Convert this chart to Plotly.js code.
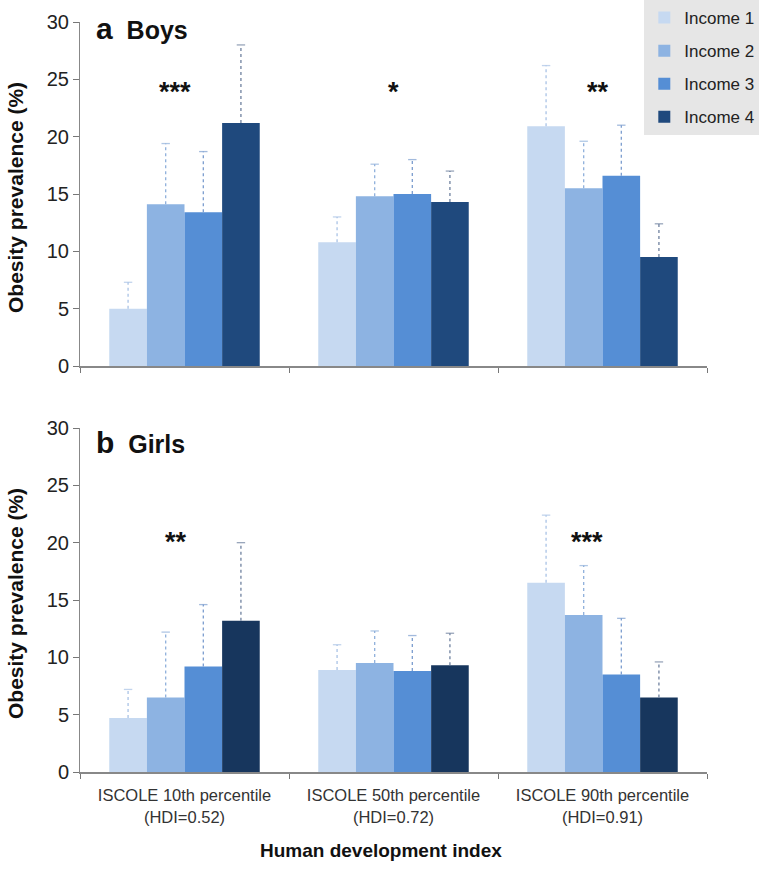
<!DOCTYPE html>
<html>
<head>
<meta charset="utf-8">
<script src="https://cdn.plot.ly/plotly-3.0.1.min.js"></script>
<style>html,body{margin:0;padding:0;background:#fff;}#chart{width:760px;height:869px;}</style>
</head>
<body>
<div id="chart"></div>
<script>
// ---- data ----
const categories = ["ISCOLE 10th percentile<br>(HDI=0.52)", "ISCOLE 50th percentile<br>(HDI=0.72)", "ISCOLE 90th percentile<br>(HDI=0.91)"];
const seriesNames = ["Income 1", "Income 2", "Income 3", "Income 4"];

const boysIncome1 = [5.0, 10.8, 20.9];
const boysIncome2 = [14.1, 14.8, 15.5];
const boysIncome3 = [13.4, 15.0, 16.6];
const boysIncome4 = [21.2, 14.3, 9.5];
const boysUpper1 = [7.3, 13.0, 26.2];
const boysUpper2 = [19.4, 17.6, 19.6];
const boysUpper3 = [18.7, 18.0, 21.0];
const boysUpper4 = [28.0, 17.0, 12.4];

const girlsIncome1 = [4.7, 8.9, 16.5];
const girlsIncome2 = [6.5, 9.5, 13.7];
const girlsIncome3 = [9.2, 8.8, 8.5];
const girlsIncome4 = [13.2, 9.3, 6.5];
const girlsUpper1 = [7.2, 11.1, 22.4];
const girlsUpper2 = [12.2, 12.3, 18.0];
const girlsUpper3 = [14.6, 11.9, 13.4];
const girlsUpper4 = [20.0, 12.1, 9.6];

const boysStars = ["***", "*", "**"];
const girlsStars = ["**", "", "***"];
const boysStarY = 23.9;
const girlsStarY = 20.1;

// ---- styles ----
const boysStarShift = [-10, 0, -5];
const girlsStarShift = [-9, 0, -16];
const barColors = ["#c6d9f1", "#8db3e2", "#558ed5", "#1f497d"];
const girlsColors = ["#c6d9f1", "#8db3e2", "#558ed5", "#17365d"];
const errColors = ["#a9c3e6", "#8fb0db", "#7b9dcf", "#6f819f"];
const FONT = "Liberation Sans, Arial, sans-serif";
const GAP = 0.28;

const boysVals = [boysIncome1, boysIncome2, boysIncome3, boysIncome4];
const boysUp = [boysUpper1, boysUpper2, boysUpper3, boysUpper4];
const girlsVals = [girlsIncome1, girlsIncome2, girlsIncome3, girlsIncome4];
const girlsUp = [girlsUpper1, girlsUpper2, girlsUpper3, girlsUpper4];

const traces = [];
function addPanel(vals, ups, cols, xa, ya, show) {
  vals.forEach((v, i) => {
    // dotted error whisker from bar top to upper value
    const ex = [], ey = [], ms = [];
    categories.forEach((c, k) => { ex.push(c, c, null); ey.push(v[k], ups[i][k], null); ms.push(0, 6, 0); });
    traces.push({
      type: "scatter", mode: "lines+markers", x: ex, y: ey, xaxis: xa, yaxis: ya,
      showlegend: false, hoverinfo: "skip", cliponaxis: false, connectgaps: false,
      line: {color: errColors[i], width: 1.3, dash: "dot"},
      marker: {symbol: "line-ew", size: ms, line: {color: errColors[i], width: 1.3}}
    });
  });
  vals.forEach((v, i) => {
    traces.push({
      type: "bar", x: categories, y: v, name: seriesNames[i],
      xaxis: xa, yaxis: ya, showlegend: show, legendgroup: "g" + i,
      marker: {color: cols[i], line: {width: 0}},
      hoverinfo: "y"
    });
  });
}
addPanel(boysVals, boysUp, barColors, "x", "y", true);
addPanel(girlsVals, girlsUp, girlsColors, "x2", "y2", false);

const H = 869, W = 760, L = 80, PW = 627;
const topDom = [1 - 366 / H, 1 - 22 / H];
const botDom = [1 - 772 / H, 1 - 428 / H];
const starFont = {family: FONT, size: 27, color: "#111"};
const annotations = [];
boysStars.forEach((s, i) => { if (s) annotations.push({xref: "x", yref: "y", x: categories[i], y: boysStarY, xshift: boysStarShift[i], text: "<b>" + s + "</b>", showarrow: false, font: starFont}); });
girlsStars.forEach((s, i) => { if (s) annotations.push({xref: "x2", yref: "y2", x: categories[i], y: girlsStarY, xshift: girlsStarShift[i], text: "<b>" + s + "</b>", showarrow: false, font: starFont}); });
annotations.push({xref: "paper", yref: "paper", x: 0.022, y: 1 - 28 / H, xanchor: "left", yanchor: "middle", showarrow: false,
  text: "<b><span style='font-size:30px'>a</span>  Boys</b>", font: {family: FONT, size: 25, color: "#111"}});
annotations.push({xref: "paper", yref: "paper", x: 0.022, y: 1 - 442 / H, xanchor: "left", yanchor: "middle", showarrow: false,
  text: "<b><span style='font-size:30px'>b</span>  Girls</b>", font: {family: FONT, size: 25, color: "#111"}});
[topDom, botDom].forEach((d) => {
  annotations.push({xref: "paper", yref: "paper", x: (15 - L) / PW, y: (d[0] + d[1]) / 2 - 4 / H, xanchor: "center", yanchor: "middle",
    textangle: -90, showarrow: false, text: "<b>Obesity prevalence (%)</b>", font: {family: FONT, size: 21, color: "#111"}});
});
annotations.push({xref: "paper", yref: "paper", x: (381 - L) / PW, y: 1 - 850 / H, xanchor: "center", yanchor: "middle",
  showarrow: false, text: "<b>Human development index</b>", font: {family: FONT, size: 19, color: "#111"}});

const yax = (dom) => ({
  domain: dom, range: [0, 30], dtick: 5, ticks: "outside", ticklen: 6, tickcolor: "#777",
  showline: true, linecolor: "#888", linewidth: 1, showgrid: false, zeroline: false,
  tickfont: {family: FONT, size: 20, color: "#222"}
});
const xax = (anchor, labels) => ({
  anchor: anchor, showline: true, linecolor: "#888", linewidth: 1.5, ticks: "outside", tickson: "boundaries",
  ticklen: 5, tickcolor: "#777", showgrid: false, showticklabels: labels, ticklabelstandoff: 8,
  tickfont: {family: FONT, size: 16.5, color: "#333"}
});

const layout = {
  width: W, height: H,
  margin: {l: L, r: W - L - PW, t: 0, b: 0},
  paper_bgcolor: "#fff", plot_bgcolor: "#fff",
  barmode: "group", bargap: GAP, bargroupgap: 0,
  scattermode: "group", scattergap: GAP,
  showlegend: true,
  legend: {x: 0.9, y: 1, xanchor: "left", yanchor: "top", bgcolor: "#e6e6e6",
    font: {family: FONT, size: 17, color: "#222"}, tracegroupgap: 8, itemwidth: 30},
  xaxis: xax("y", false),
  yaxis: yax(topDom),
  xaxis2: xax("y2", true),
  yaxis2: yax(botDom),
  annotations: annotations
};

Plotly.newPlot("chart", traces, layout, {displayModeBar: false, staticPlot: true});
</script>
</body>
</html>
